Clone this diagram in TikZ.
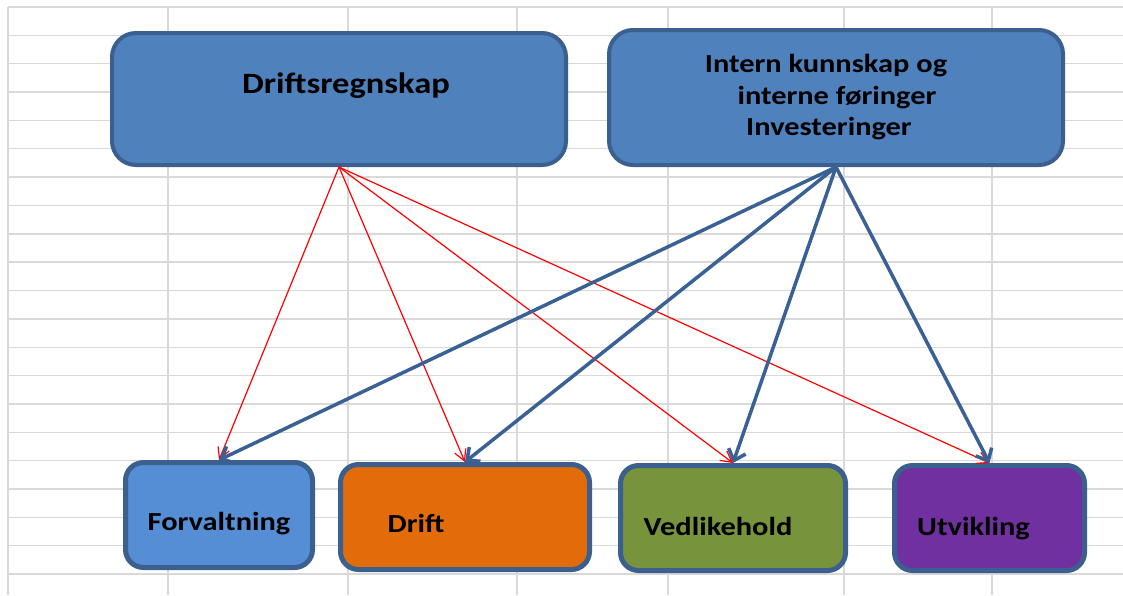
\documentclass[tikz,border=0pt]{standalone}
\usepackage{fontspec}
\newfontfamily\calib[FakeStretch=1.17]{Carlito}
\usetikzlibrary{arrows.meta}
\definecolor{gridc}{HTML}{D9D9D9}
\definecolor{topfill}{HTML}{4F81BD}
\definecolor{edgec}{HTML}{3B5F8E}
\definecolor{forvfill}{HTML}{558ED5}
\definecolor{driftfill}{HTML}{E36C0A}
\definecolor{vedlfill}{HTML}{77933C}
\definecolor{utvfill}{HTML}{7030A0}
\definecolor{bluearrow}{HTML}{3A6196}
\definecolor{redarrow}{HTML}{FF0000}
\tikzset{
  gridline/.style={draw=gridc, line width=1.4pt},
  topbox/.style={draw=edgec, fill=topfill, line width=4pt, rounded corners=24pt},
  botbox/.style={draw=edgec, line width=5pt, rounded corners=18pt, minimum height=105pt},
  lbl/.style={font=\calib\bfseries\fontsize{26}{31.5}\selectfont, text=black, inner sep=0pt},
  biglbl/.style={lbl, font=\calib\bfseries\fontsize{29.5}{34}\selectfont},
  redarr/.style={draw=redarrow, line width=1.2pt, -{Straight Barb[length=11pt,width=12pt]}},
  bluearr/.style={draw=bluearrow, line width=3.5pt, -{Straight Barb[length=10pt,width=18pt]}},
}
\begin{document}
\begin{tikzpicture}[x=1pt, y=-1pt]
\useasboundingbox (0,0) rectangle (1123,595);
% spreadsheet grid
\foreach \k in {0,...,20} {
  \draw[gridline] (8,{7+28.35*\k}) -- (1123,{7+28.35*\k});
}
\foreach \xx in {8,168,348,517,668,844,992} {
  \draw[gridline] (\xx,7) -- (\xx,595);
}
% top boxes
\node[topbox, minimum width=454pt, minimum height=132pt,
      label={[biglbl, xshift=7pt, yshift=13pt]center:Driftsregnskap}] (drs) at (339,99) {};
\node[topbox, minimum width=454pt, minimum height=135pt,
      label={[lbl, align=center, xshift=-10pt, yshift=0pt]center:Intern kunnskap og\\\hspace*{22pt}interne føringer\\\hspace*{6pt}Investeringer}] (intern) at (836,97.5) {};
% bottom boxes
\node[botbox, fill=forvfill, minimum width=187pt,
      label={[lbl, xshift=0pt, yshift=-9pt]center:Forvaltning}] (forv) at (219,515) {};
\node[botbox, fill=driftfill, minimum width=249pt,
      label={[lbl, xshift=-49pt, yshift=-6pt]center:Drift}] (drift) at (465,517) {};
\node[botbox, fill=vedlfill, minimum width=225pt,
      label={[lbl, xshift=-15pt, yshift=-8pt]center:Vedlikehold}] (vedl) at (733,518) {};
\node[botbox, fill=utvfill, minimum width=190pt,
      label={[lbl, xshift=-16pt, yshift=-11pt]center:Utvikling}] (utv) at (989.5,518) {};
% connectors
\draw[redarr] (drs.south) -- (forv.north);
\draw[redarr] (drs.south) -- (drift.north);
\draw[redarr] (drs.south) -- (vedl.north);
\draw[redarr] (drs.south) -- (utv.north);
\draw[bluearr] (intern.south) -- (forv.north);
\draw[bluearr] (intern.south) -- (drift.north);
\draw[bluearr] (intern.south) -- (vedl.north);
\draw[bluearr] (intern.south) -- (utv.north);
\end{tikzpicture}
\end{document}
